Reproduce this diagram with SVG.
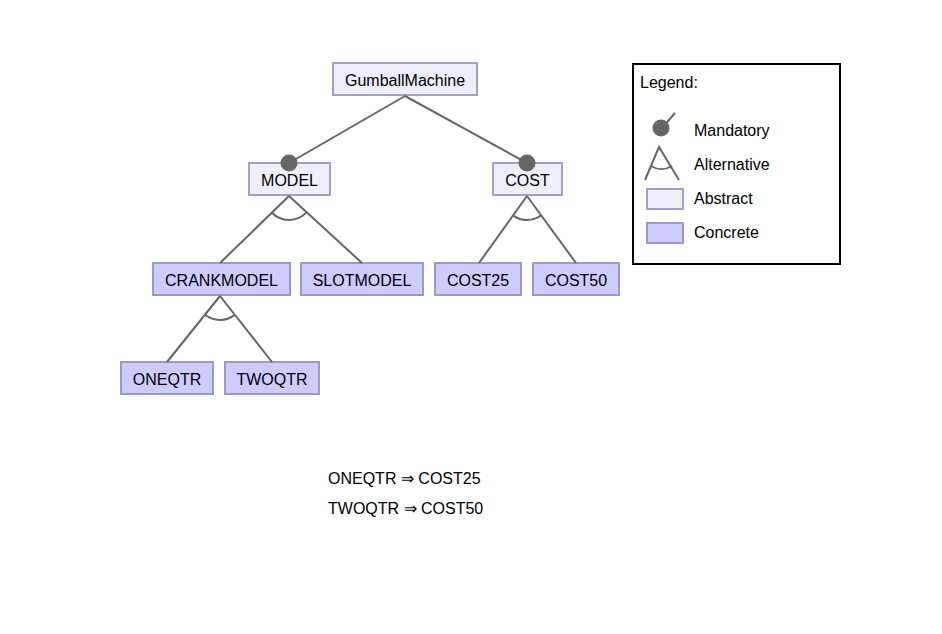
<svg xmlns="http://www.w3.org/2000/svg" width="942" height="634" viewBox="0 0 942 634">
<style>
text{font-family:"Liberation Sans",Arial,sans-serif;font-size:16px;fill:#000}
.abs{fill:#efeffb;stroke:#a0a0c8;stroke-width:2}
.con{fill:#ccccff;stroke:#9a9ac8;stroke-width:2}
.ln{stroke:#666;stroke-width:2;fill:none}
.dot{fill:#666}
.c{text-anchor:middle}
</style>
<rect width="942" height="634" fill="#fff"/>
<g id="GumballMachine"><rect class="abs" x="333" y="63" width="144" height="32"/><text class="c" x="405" y="86">GumballMachine</text></g>
<g id="MODEL"><rect class="abs" x="249" y="163" width="81" height="32"/><text class="c" x="289.5" y="186">MODEL</text></g>
<g id="COST"><rect class="abs" x="493" y="163" width="69" height="32"/><text class="c" x="527.5" y="186">COST</text></g>
<g id="CRANKMODEL"><rect class="con" x="153" y="263" width="137" height="32"/><text class="c" x="221.5" y="286">CRANKMODEL</text></g>
<g id="SLOTMODEL"><rect class="con" x="301" y="263" width="122" height="32"/><text class="c" x="362" y="286">SLOTMODEL</text></g>
<g id="COST25"><rect class="con" x="435" y="263" width="86" height="32"/><text class="c" x="478" y="286">COST25</text></g>
<g id="COST50"><rect class="con" x="533" y="263" width="86" height="32"/><text class="c" x="576" y="286">COST50</text></g>
<g id="ONEQTR"><rect class="con" x="121" y="362" width="92" height="32"/><text class="c" x="167" y="385">ONEQTR</text></g>
<g id="TWOQTR"><rect class="con" x="225" y="362" width="94" height="32"/><text class="c" x="272" y="385">TWOQTR</text></g>
<g id="connectors">
<line class="ln" x1="405" y1="96" x2="289" y2="163"/>
<line class="ln" x1="405" y1="96" x2="527" y2="163"/>
<circle class="dot" cx="289" cy="163" r="8.5"/>
<circle class="dot" cx="527" cy="163" r="8.5"/>
<line class="ln" x1="289" y1="196" x2="220" y2="263"/>
<line class="ln" x1="289" y1="196" x2="362" y2="263"/>
<path class="ln" d="M271.9,212.8 A24,24 0 0 0 306.5,212.4"/>
<line class="ln" x1="527" y1="196" x2="479" y2="263"/>
<line class="ln" x1="527" y1="196" x2="576" y2="263"/>
<path class="ln" d="M513.2,215.6 A24,24 0 0 0 541.0,215.5"/>
<line class="ln" x1="220" y1="296" x2="167" y2="362"/>
<line class="ln" x1="220" y1="296" x2="272" y2="362"/>
<path class="ln" d="M205.1,314.8 A24,24 0 0 0 234.7,314.9"/>
</g>
<g id="constraints">
<text x="328" y="484">ONEQTR ⇒ COST25</text>
<text x="328" y="514">TWOQTR ⇒ COST50</text>
</g>
<g id="legend">
<rect x="633" y="64" width="207" height="200" fill="#fff" stroke="#000" stroke-width="2"/>
<text x="640" y="88">Legend:</text>
<line class="ln" x1="662" y1="128" x2="675" y2="113"/>
<circle class="dot" cx="661" cy="128" r="8.5"/>
<text x="694" y="136">Mandatory</text>
<path class="ln" d="M645,180 L659,147 L679,180"/>
<path class="ln" d="M651,166 A20,20 0 0 0 672,166"/>
<text x="694" y="170">Alternative</text>
<rect class="abs" x="647" y="189" width="36" height="20"/>
<text x="694" y="204">Abstract</text>
<rect class="con" x="647" y="223" width="36" height="20"/>
<text x="694" y="238">Concrete</text>
</g>
</svg>
